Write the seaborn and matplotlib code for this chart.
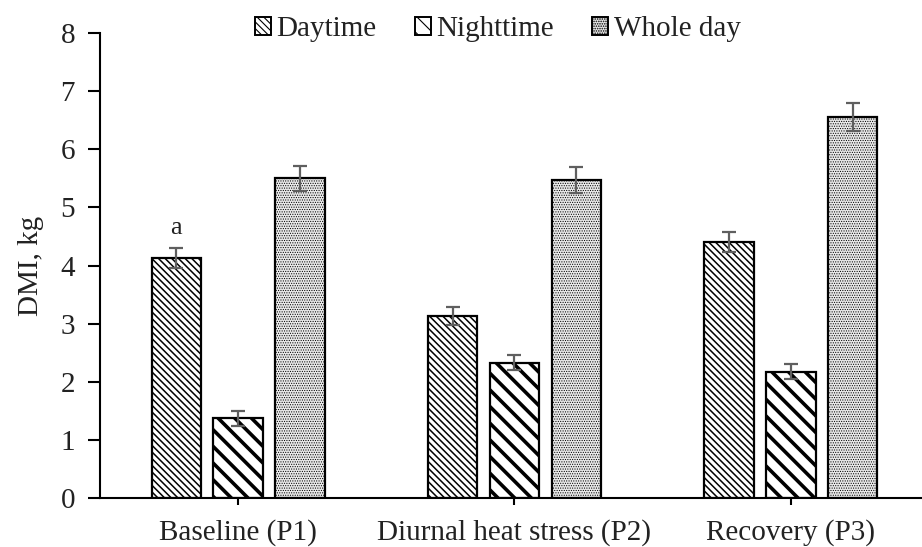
import numpy as np
import pandas as pd
import seaborn as sns
import matplotlib
matplotlib.use("Agg")
import matplotlib.pyplot as plt
from matplotlib.patches import Patch

periods = ["Baseline (P1)", "Diurnal heat stress (P2)", "Recovery (P3)"]
series = ["Daytime", "Nighttime", "Whole day"]
daytime = [4.13, 3.13, 4.40]
nighttime = [1.37, 2.33, 2.17]
wholeday = [5.50, 5.47, 6.56]
daytime_err = [0.17, 0.15, 0.17]
nighttime_err = [0.13, 0.13, 0.13]
wholeday_err = [0.22, 0.22, 0.24]
yticks = [0, 1, 2, 3, 4, 5, 6, 7, 8]

sns.set_theme(style="white")
plt.rcParams['font.family'] = ['Liberation Serif', 'DejaVu Serif']
plt.rcParams['hatch.linewidth'] = 0.8

rows = []
for s, vals, errs in zip(series, [daytime, nighttime, wholeday],
                         [daytime_err, nighttime_err, wholeday_err]):
    for p, v, e in zip(periods, vals, errs):
        rows.append({"Period": p, "Series": s, "DMI": v, "err": e})
df = pd.DataFrame(rows)

fig = plt.figure(figsize=(9.22, 5.47), dpi=100)
ax = fig.add_axes([100 / 922, 1 - 498 / 547, 1 - 100 / 922, (498 - 33) / 547])

faces = {"Daytime": "white", "Nighttime": "white", "Whole day": "#e9e9e9"}
sns.barplot(data=df, x="Period", y="DMI", hue="Series", order=periods,
            hue_order=series, errorbar=None, width=0.672, gap=0.2,
            palette=[faces[s] for s in series], edgecolor="black",
            linewidth=1.6, legend=False, ax=ax, zorder=2)

hatches = {"Daytime": "\\\\\\\\\\", "Nighttime": "\\\\", "Whole day": "......."}
hlw = {"Daytime": 1.1, "Nighttime": 2.6, "Whole day": 0.5}
hcol = {"Daytime": "#111111", "Nighttime": "black", "Whole day": "#a3a3a3"}


def style_patch(p, s):
    p.set_hatch(hatches[s])
    if hasattr(p, "set_hatch_linewidth"):
        p.set_hatch_linewidth(hlw[s])
    if hasattr(p, "set_hatchcolor"):
        p.set_hatchcolor(hcol[s])


for container, s in zip(ax.containers, series):
    sub = df[df.Series == s].set_index("Period").loc[periods]
    xs = []
    for bar in container:
        style_patch(bar, s)
        xs.append(bar.get_x() + bar.get_width() / 2)
    ax.errorbar(xs, sub["DMI"].values, yerr=sub["err"].values, fmt="none",
                ecolor="#5f5f5f", elinewidth=1.6, capsize=5, capthick=1.6, zorder=3)
    if s == "Daytime":
        ax.text(xs[0], sub["DMI"].values[0] + sub["err"].values[0] + 0.16, "a",
                ha="center", va="bottom", fontsize=19, color="#222222")

ax.set_ylim(0, 8)
ax.set_xlim(-0.5, 2.475)
ax.set_yticks(yticks)
ax.set_yticklabels([str(t) for t in yticks])
ax.set_xlabel("")
ax.set_ylabel("DMI, kg", fontsize=21, color="#222222", labelpad=12)
ax.tick_params(axis="y", direction="out", length=9, width=1.5, labelsize=21,
               colors="black", labelcolor="#222222", pad=9, left=True)
ax.tick_params(axis="x", direction="out", length=5, width=1.5, labelsize=21,
               colors="black", labelcolor="#222222", pad=10, bottom=True)
for side in ["top", "right"]:
    ax.spines[side].set_visible(False)
for side in ["left", "bottom"]:
    ax.spines[side].set_color("black")
    ax.spines[side].set_linewidth(1.5)

handles = []
for s in series:
    h = Patch(facecolor=faces[s], edgecolor="black", linewidth=1.4, label=s)
    style_patch(h, s)
    handles.append(h)
leg = fig.legend(handles=handles, loc="upper center", bbox_to_anchor=(0.54, 0.997),
                 ncol=3, frameon=False, fontsize=21, handlelength=0.55,
                 handleheight=0.55, handletextpad=0.2, columnspacing=1.3,
                 borderaxespad=0.1)
for t in leg.get_texts():
    t.set_color("#222222")

fig.savefig("out.png", dpi=100)
